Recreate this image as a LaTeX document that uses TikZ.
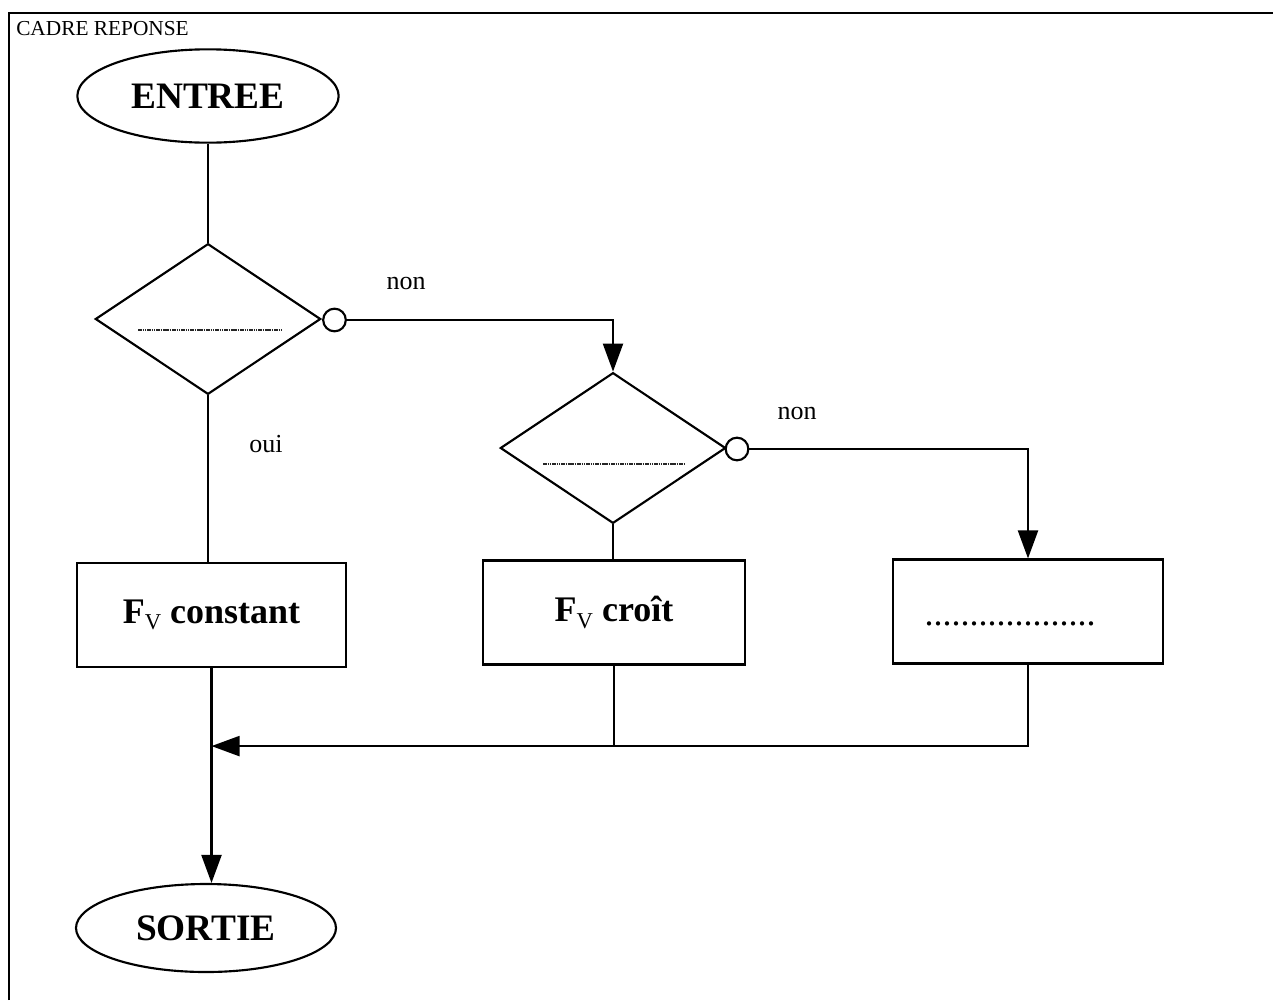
\documentclass[tikz,border=0pt]{standalone}
\usepackage{fontspec}
\setmainfont{Liberation Serif}
\usetikzlibrary{shapes.geometric,arrows.meta,calc}
\tikzset{
  ln/.style={line width=1.6pt},
  arr/.style={ln,-{Triangle[length=21pt,width=15pt]}},
  term/.style={draw,ln,ellipse,inner sep=0pt,font=\fontsize{28}{32}\selectfont\bfseries},
  decision/.style={draw,ln,diamond,inner sep=0pt,minimum width=169pt,minimum height=113pt},
  dot/.style={draw,ln,circle,inner sep=0pt,minimum size=17pt},
  box/.style={draw,ln,rectangle,inner sep=0pt,minimum height=78pt,font=\fontsize{27}{30}\selectfont\bfseries},
  lbl/.style={font=\fontsize{19.5}{22}\selectfont},
  blank/.style={line width=0.9pt,black!85,dash pattern=on 1.2pt off 0.5pt}
}
\newcommand{\FV}{F\raisebox{-0.4ex}{\fontsize{17}{20}\selectfont\mdseries V}}
\begin{document}
\begin{tikzpicture}[x=0.75pt,y=-0.75pt]
\useasboundingbox (0,0) rectangle (1273,1000);
\fill[white] (0,0) rectangle (1273,1000);
% frame
\coordinate (fbl) at (9,1000);
\coordinate (ftr) at (1273,13);
\draw[line width=1.6pt] (fbl) |- (ftr);
\node[anchor=base west,inner sep=0pt,font=\fontsize{16}{19}\selectfont] (cadre) at (16,35) {CADRE REPONSE};
% nodes
\node[term,minimum width=196pt,minimum height=70pt] (entree) at (208,96) {ENTREE};
\node[decision] (d1) at (208,319) {};
\node[dot] (c1) at (334.5,320) {};
\node[decision] (d2) at (613,448) {};
\node[dot] (c2) at (737,449) {};
\node[box,minimum width=202pt] (b1) at (211.5,615) {\FV{} constant};
\node[box,minimum width=196.5pt] (b2) at (614,612.5) {\raisebox{-3pt}{\FV{} croît}};
\node[box,minimum width=202.5pt,font=\fontsize{27}{30}\selectfont] (b3) at (1028,611.5) {\vphantom{F}\raisebox{-3pt}{...................}\hspace*{27pt}};
\node[term,minimum width=195pt,minimum height=66pt] (sortie) at (206,928) {SORTIE};
% labels
\node[lbl] (non1) at (406,283) {non};
\node[lbl] (non2) at (797,413) {non};
\node[lbl] (oui) at (266,444) {oui};
% blanks in diamonds
\draw[blank] ($(d1.center)+(-70,11)$) -- ($(d1.center)+(75,11)$);
\draw[blank] ($(d2.center)+(-70,16)$) -- ($(d2.center)+(71,16)$);
% connectors
\draw[ln] (entree.south) -- (d1.north);
\draw[arr] (c1.east) -| (d2.north);
\draw[ln] (d1.south) -- (d1.south |- b1.north);
\draw[ln] (d2.south) -- (d2.south |- b2.north);
\draw[arr] (c2.east) -| (b3.north);
\coordinate (m) at ($(b1.south)+(0,78)$);
\draw[ln] (b2.south) -- (b2.south |- m);
\draw[arr] (b3.south) |- (m);
\draw[arr] (b1.south) -- (b1.south |- sortie.north);
\end{tikzpicture}
\end{document}
